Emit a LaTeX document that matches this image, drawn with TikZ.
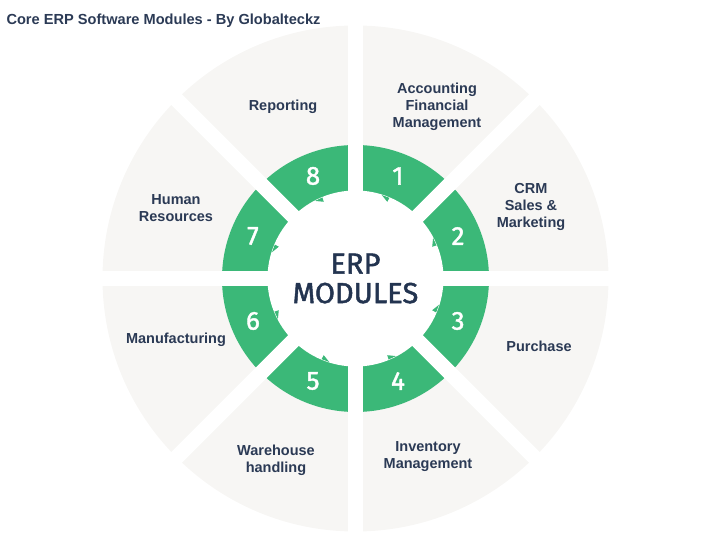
\documentclass[tikz,border=0pt]{standalone}
\usepackage{fontspec}
\setmainfont{Liberation Sans}
\newfontfamily\dinfont{Fira Sans}[FakeBold=1.6]
\definecolor{erpgreen}{RGB}{59,184,120}
\definecolor{ringgrey}{RGB}{247,246,244}
\definecolor{navy}{RGB}{43,58,85}
\definecolor{deepnavy}{RGB}{35,52,80}
\begin{document}
\begin{tikzpicture}[x=1pt,y=1pt,line join=round]
    \tikzset{label style/.style={font=\fontsize{14.5}{17}\selectfont\bfseries,text=navy,align=center},
             num style/.style={font=\dinfont\fontsize{26}{26}\selectfont,text=white}}
    \def \rout{253}
    \def \rring{133.5}
    \def \rin{88}
    \useasboundingbox (-355.5,-277.5) rectangle (354.5,278.5);
    % disc, green ring and hole
    \fill[ringgrey] (0,0) circle (\rout);
    \fill[erpgreen] (0,0) circle (\rring);
    \fill[white] (0,0) circle (\rin);
    \foreach \a in {0,45,...,315}
        \draw[white,line width=15pt] (\a:70) -- (\a:\rout+5);
    % small teeth on the inner edge
    \foreach \m in {67.5,22.5,...,-247.5}
        \fill[erpgreen] (\m+5:\rin-0.5) -- (\m:\rin-5) -- (\m-0.3:\rin-0.5) -- cycle;
    % numbers
    \foreach \n [evaluate=\n as \m using 112.5-45*\n] in {1,...,8}
        \node[num style] (n\n) at (\m:111) {\n};
    \node[font=\dinfont\fontsize{29}{29.5}\selectfont,text=deepnavy,align=center] (erp) at (0,0) {ERP\\MODULES};
    % module labels
    \node[label style] (acc) at (81.5,171.5) {Accounting\\Financial\\Management};
    \node[label style] (crm) at (175.5,71.5) {CRM\\Sales \&\\Marketing};
    \node[label style] (pur) at (183.5,-67.5) {Purchase};
    \node[label style] (inv) at (72.5,-178.5) {Inventory\\Management};
    \node[label style] (ware) at (-79.5,-181.5) {Warehouse\\handling};
    \node[label style] (manu) at (-179.5,-61.5) {Manufacturing};
    \node[label style] (hr) at (-179.5,70.5) {Human\\Resources};
    \node[label style] (rep) at (-72.5,171.5) {Reporting};
    \node[anchor=west,font=\fontsize{14.6}{16}\selectfont\bfseries,text=navy] (title) at (-352.5,257.5) {Core ERP Software Modules - By Globalteckz};
\end{tikzpicture}
\end{document}
